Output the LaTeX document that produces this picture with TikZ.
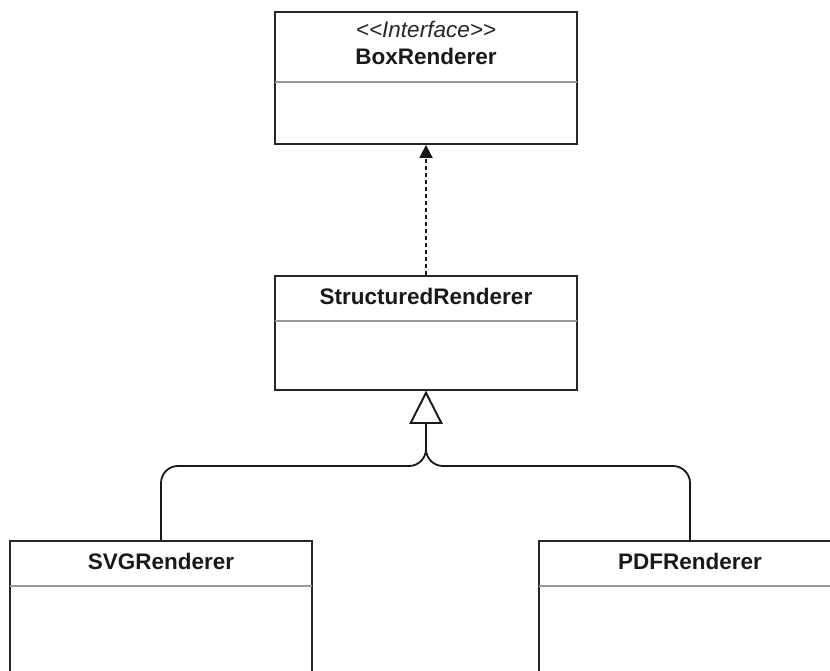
\documentclass[tikz,border=0pt]{standalone}
\usepackage{fontspec}
\setmainfont{Liberation Sans}[Ligatures=TeXOff]
\usetikzlibrary{arrows.meta}
\begin{document}
\begin{tikzpicture}[x=1pt,y=-1pt,
  classbox/.style={draw=black!85, line width=1.8pt, rectangle, inner sep=0pt, minimum width=302pt},
  divider/.style={draw=black!40, line width=1.4pt},
  ctitle/.style={font=\fontsize{22.5}{26}\selectfont\bfseries, text=black!90, anchor=base, inner sep=0pt},
  stereo/.style={font=\fontsize{22.5}{26}\selectfont\itshape, text=black!85, anchor=base, inner sep=0pt},
  realize/.style={draw=black!90, line width=1.8pt, dash pattern=on 4pt off 3pt, -{Triangle[length=13pt,width=13pt]}},
  inherit/.style={draw=black!90, line width=1.8pt, rounded corners=17pt, -{Triangle[open,length=33pt,width=33pt,fill=white,line width=1.8pt]}}]
\useasboundingbox (0,0) rectangle (830,671);
\clip (0,0) rectangle (830,671);
% classes
\node[classbox, minimum height=132pt] (box) at (426,78) {};
\node[classbox, minimum height=114pt] (struct) at (426,333) {};
\node[classbox, minimum height=200pt] (svg) at (161,641) {};
\node[classbox, minimum height=200pt] (pdf) at (690,641) {};
% dividers
\draw[divider] ([yshift=-71pt,xshift=1pt]box.north west) -- ([yshift=-71pt,xshift=-1pt]box.north east);
\draw[divider] ([yshift=-46pt,xshift=1pt]struct.north west) -- ([yshift=-46pt,xshift=-1pt]struct.north east);
\draw[divider] ([yshift=-46pt,xshift=1pt]svg.north west) -- ([yshift=-46pt,xshift=-1pt]svg.north east);
\draw[divider] ([yshift=-46pt,xshift=1pt]pdf.north west) -- ([yshift=-46pt,xshift=-1pt]pdf.north east);
% labels
\node[stereo] (boxst) at (426,38) {<<Interface>>};
\node[ctitle] (boxt) at (426,65) {BoxRenderer};
\node[ctitle] (structt) at (426,304) {StructuredRenderer};
\node[ctitle] (svgt) at (161,569) {SVGRenderer};
\node[ctitle] (pdft) at (690,569) {PDFRenderer};
% connectors
\coordinate (j) at (426,466);
\draw[realize] (struct.north) -- (box.south);
\draw[inherit] (svg.north) |- (j) -- (struct.south);
\draw[inherit] (pdf.north) |- (j) -- (struct.south);
\end{tikzpicture}
\end{document}
